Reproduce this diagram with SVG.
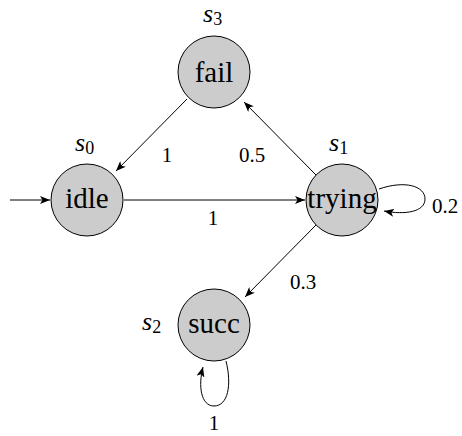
<svg xmlns="http://www.w3.org/2000/svg" width="462" height="436" viewBox="0 0 462 436">
<style>
.node circle{fill:#cccccc;stroke:#000;stroke-width:1}
.nl{font-family:"Liberation Serif","Times New Roman",serif;font-size:29px;text-anchor:middle;fill:#000}
.sl{font-family:"Liberation Serif","Times New Roman",serif;font-style:italic;font-size:26px;fill:#000}
.sub{font-style:normal;font-size:18px}
.el{font-family:"Liberation Serif","Times New Roman",serif;font-size:21px;text-anchor:middle;fill:#000}
.e{fill:none;stroke:#000;stroke-width:1;marker-end:url(#ah)}
</style>
<defs>
<marker id="ah" markerWidth="10" markerHeight="8" refX="10" refY="4" orient="auto" markerUnits="userSpaceOnUse">
<path d="M0,0 L10,4 L0,8 L2.5,4 Z" fill="#000"/>
</marker>
</defs>
<g id="edges">
<path class="e" d="M10,200 L50,200"/>
<path class="e" d="M124,200 L305,200"/>
<path class="e" d="M187,99 L116,171"/>
<path class="e" d="M316,175 L244,102"/>
<path class="e" d="M316,225 L245,297"/>
<path class="e" d="M379,189 C405,180 425,186 425,199 C425,212 405,215 384,211"/>
<path class="e" d="M226,361 C232,385 228,406 214,406 C201,406 198,386 203,367"/>
<text class="el" x="167" y="162">1</text>
<text class="el" x="252" y="162">0.5</text>
<text class="el" x="213" y="225">1</text>
<text class="el" x="445" y="213">0.2</text>
<text class="el" x="303" y="289">0.3</text>
<text class="el" x="214" y="430">1</text>
</g>
<g id="s3" class="node">
<circle cx="214" cy="72" r="36"/>
<text class="nl" x="214" y="82">fail</text>
<text class="sl" x="203" y="22">s<tspan class="sub" dy="3">3</tspan></text>
</g>
<g id="s0" class="node">
<circle cx="87" cy="200" r="36"/>
<text class="nl" x="87" y="208">idle</text>
<text class="sl" x="75" y="151">s<tspan class="sub" dy="3">0</tspan></text>
</g>
<g id="s1" class="node">
<circle cx="342" cy="200" r="36"/>
<text class="nl" x="342" y="208">trying</text>
<text class="sl" x="329" y="151">s<tspan class="sub" dy="3">1</tspan></text>
</g>
<g id="s2" class="node">
<circle cx="214" cy="325" r="36"/>
<text class="nl" x="214" y="333">succ</text>
<text class="sl" x="142" y="330">s<tspan class="sub" dy="3">2</tspan></text>
</g>
</svg>
